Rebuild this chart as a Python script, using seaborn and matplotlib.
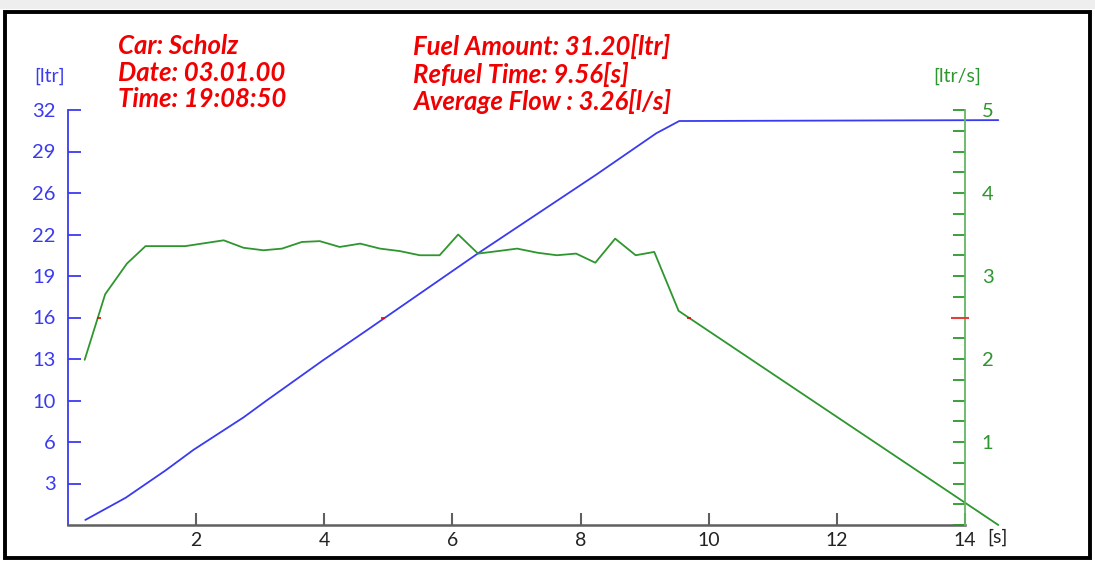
import numpy as np
import seaborn as sns
import matplotlib.pyplot as plt
from matplotlib.patches import Rectangle
from matplotlib.ticker import FixedLocator, MultipleLocator

sns.set_style("white")
plt.rcParams["font.family"] = ["Lato", "DejaVu Sans"]

# fuel amount [ltr] over time [s]
fuel_time = [0.27, 0.90, 1.52, 1.96, 2.74, 3.10, 3.98, 4.66, 6.40, 8.24, 9.18, 9.54, 14.52]
fuel_amount = [0.39, 2.1, 4.2, 5.8, 8.3, 9.6, 12.7, 15.0, 20.95, 27.0, 30.2, 31.15, 31.22]

# flow [ltr/s] over time [s]
flow_time = [0.26, 0.58, 0.92, 1.21, 1.83, 2.43, 2.74, 3.05, 3.34, 3.65, 3.93, 4.24,
             4.56, 4.87, 5.18, 5.49, 5.80, 6.09, 6.40, 6.71, 7.01, 7.33, 7.63, 7.93,
             8.23, 8.54, 8.86, 9.15, 9.53, 14.52]
flow_rate = [1.99, 2.78, 3.15, 3.36, 3.36, 3.43, 3.34, 3.31, 3.33, 3.41, 3.42, 3.35,
             3.39, 3.33, 3.30, 3.25, 3.25, 3.50, 3.27, 3.30, 3.33, 3.28, 3.25, 3.27,
             3.16, 3.45, 3.25, 3.29, 2.58, 0.0]

# red cursor marks where the lines cross 2.5 ltr/s (= 16 ltr)
cursor_time = [0.48, 4.91, 9.69]
cursor_level = 2.5
cursor_axis_time = 13.92

fuel_tick_labels = ["3", "6", "10", "13", "16", "19", "22", "26", "29", "32"]
time_ticks = [2, 4, 6, 8, 10, 12, 14]

info_left = "Car: Scholz\nDate: 03.01.00\nTime: 19:08:50"
info_right = "Fuel Amount: 31.20[ltr]\nRefuel Time: 9.56[s]\nAverage Flow : 3.26[l/s]"

BLUE = "#3a3af0"
GREEN = "#2e962e"
RED = "#f00000"

W, H = 1095, 563


def main():
    fig = plt.figure(figsize=(W / 100, H / 100), dpi=100)
    ax = fig.add_axes([68 / W, 1 - 525 / H, (965 - 68) / W, (525 - 110) / H])
    ax2 = ax.twinx()

    sns.lineplot(x=fuel_time, y=fuel_amount, ax=ax, color=BLUE, linewidth=1.3)
    sns.lineplot(x=flow_time, y=flow_rate, ax=ax2, color=GREEN, linewidth=1.3)
    ax.lines[-1].set_clip_on(False)
    ax2.lines[-1].set_clip_on(False)
    ax2.scatter(cursor_time, [cursor_level] * len(cursor_time), marker="_",
                s=8, color=RED, linewidths=1.2, zorder=5)
    # red cursor tick on the flow axis
    ax2.plot([cursor_axis_time], [cursor_level], marker="_", markersize=13,
             markeredgewidth=1.5, color="#e04040", clip_on=False, zorder=6)

    ax.set_xlim(0, 14)
    ax.set_ylim(0, 32)
    ax2.set_ylim(0, 5)

    for a in (ax, ax2):
        a.set_facecolor("none")
        a.spines["top"].set_visible(False)
        a.grid(False)
    ax.spines["right"].set_visible(False)
    ax2.spines["left"].set_visible(False)
    ax2.spines["bottom"].set_visible(False)
    ax.spines["left"].set_color(BLUE)
    ax.spines["left"].set_linewidth(1.3)
    ax.spines["bottom"].set_color("#606060")
    ax.spines["bottom"].set_linewidth(1.8)
    ax2.spines["right"].set_color("#62b862")
    ax2.spines["right"].set_linewidth(1.3)

    # left axis: ten evenly spaced ticks, labels rounded
    ax.yaxis.set_major_locator(FixedLocator(np.linspace(3.2, 32, 10)))
    ax.set_yticklabels(fuel_tick_labels)
    ax.tick_params(axis="y", direction="in", length=9, width=1.3, color=BLUE,
                   labelcolor=BLUE, labelsize=14.5, pad=9, left=True)

    ax.set_xticks(time_ticks)
    ax.tick_params(axis="x", direction="in", length=9, width=1.5, color="#606060",
                   labelcolor="#222222", labelsize=14, pad=5, bottom=True)
    ax.xaxis.get_major_ticks()[-1].tick1line.set_color(GREEN)

    ax2.yaxis.set_major_locator(FixedLocator([1, 2, 3, 4, 5]))
    ax2.yaxis.set_minor_locator(MultipleLocator(0.25))
    ax2.tick_params(axis="y", which="both", direction="in", length=9, width=1.3,
                    color=GREEN, labelcolor=GREEN, labelsize=14.5, pad=12, right=True)

    # unit labels
    fig.text(50 / W, 1 - 76 / H, "[ltr]", color=BLUE, fontsize=14, ha="center", va="center")
    fig.text(957 / W, 1 - 76 / H, "[ltr/s]", color=GREEN, fontsize=14, ha="center", va="center")
    fig.text(997 / W, 1 - 537 / H, "[s]", color="#222222", fontsize=14, ha="center", va="center")

    # refuel info
    for x, txt in ((118, info_left), (413, info_right)):
        fig.text(x / W, 1 - 34 / H, txt, color=RED, fontsize=18.5, fontweight="bold",
                 fontstyle="italic", ha="left", va="top", linespacing=1.13)

    # outer frame
    fig.patches.append(Rectangle((0, 1 - 9 / H), 1, 9 / H, transform=fig.transFigure,
                                 facecolor="#eeeeee", edgecolor="none"))
    fig.patches.append(Rectangle((5 / W, 1 - 558 / H), 1085 / W, 546 / H,
                                 transform=fig.transFigure, facecolor="none",
                                 edgecolor="black", linewidth=2.8))

    fig.savefig("out.png", dpi=100)


if __name__ == "__main__":
    main()
